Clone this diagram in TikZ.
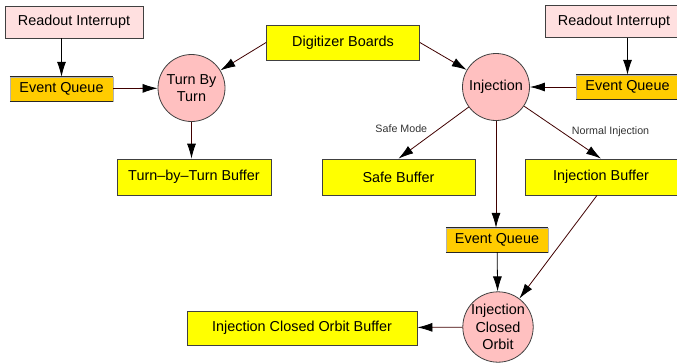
\documentclass[tikz,border=0pt]{standalone}
\usepackage{fontspec}
\setmainfont{Liberation Sans}
\usetikzlibrary{arrows.meta}
\definecolor{interruptPink}{HTML}{FFE0E0}
\definecolor{taskPink}{HTML}{FFC0C0}
\definecolor{bufferYellow}{HTML}{FFFF00}
\definecolor{queueGold}{HTML}{FFCC00}
\definecolor{flowBrown}{HTML}{400000}
\tikzset{
  interrupt/.style={rectangle, fill=interruptPink, draw=black!75, minimum width=138pt, minimum height=32pt},
  buffer/.style={rectangle, fill=bufferYellow, draw=black!75, minimum height=36pt},
  queue/.style={rectangle, fill=queueGold, draw=black!30, line width=0.4pt, minimum width=103pt, minimum height=24pt, inner sep=0pt},
  queueEdge/.style={line width=1.3pt, black!85},
  task/.style={circle, fill=taskPink, draw=black!75, minimum size=67pt, inner sep=0pt, align=center},
  flow/.style={-{Latex[length=15pt,width=9pt,color=black]}, flowBrown},
  trigger/.style={-{Latex[length=15pt,width=9pt]}, black},
  modeLabel/.style={font=\fontsize{10.7}{12}\selectfont, inner sep=0pt, text=black!80}
}

\begin{document}
\begin{tikzpicture}[x=1pt, y=-1pt, line width=0.8pt,
        font={\fontsize{14.4}{17.5}\selectfont}]
  \useasboundingbox (0,0) rectangle (677,362);

  \node [interrupt] (riL) at (74,22) {Readout Interrupt};
  \node [interrupt] (riR) at (614,21.5) {Readout Interrupt};
  \node [queue] (eqL) at (61.5,89) {Event Queue};
  \node [queue] (eqR) at (627.5,87) {Event Queue};
  \node [queue, minimum width=102pt] (eqM) at (497,240) {Event Queue};
  \node [buffer, minimum width=153pt, minimum height=35pt] (dig) at (343,42.5) {Digitizer Boards};
  \node [task] (tbt) at (191.5,88) {Turn By\\Turn};
  \node [task] (inj) at (496,87) {Injection};
  \node [task] (ico) at (498,327) {Injection\\Closed\\Orbit};
  \node [buffer, minimum width=154pt] (tbtBuf) at (194,177) {Turn{\char"2013}by{\char"2013}Turn Buffer};
  \node [buffer, minimum width=153pt] (safeBuf) at (398.5,177) {Safe Buffer};
  \node [buffer, minimum width=152pt] (injBuf) at (601,177) {Injection Buffer};
  \node [buffer, minimum width=230pt, minimum height=34pt] (icoBuf) at (302,328) {Injection Closed Orbit Buffer};

  \foreach \q in {eqL,eqR,eqM}
    \draw [queueEdge] (\q.north west) -- (\q.north east) (\q.south west) -- (\q.south east);

  \draw [trigger] (riL.south -| eqL.north) -- (eqL.north);
  \draw [trigger] (riR.south -| eqR.north) -- (eqR.north);
  \draw [flow] (eqL) -- (tbt);
  \draw [flow] (eqR) -- (inj);
  \draw [flow] (dig.west) -- (tbt);
  \draw [flow] (dig.east) -- (inj);
  \draw [flow] (tbt) -- (tbt |- tbtBuf.north);
  \draw [flow] (inj) -- (safeBuf.north)
    node [modeLabel, midway, anchor=east, xshift=-6pt, yshift=4pt] (safeLbl) {Safe Mode};
  \draw [flow] (inj) -- (injBuf.north)
    node [modeLabel, midway, anchor=west, xshift=9pt, yshift=1pt] (normLbl) {Normal Injection};
  \draw [flow] (inj) -- (inj |- eqM.north);
  \draw [trigger] (eqM) -- (ico);
  \draw [flow] ([xshift=-4pt]injBuf.south) -- (ico);
  \draw [flow] (ico) -- (icoBuf);
\end{tikzpicture}
\end{document}
